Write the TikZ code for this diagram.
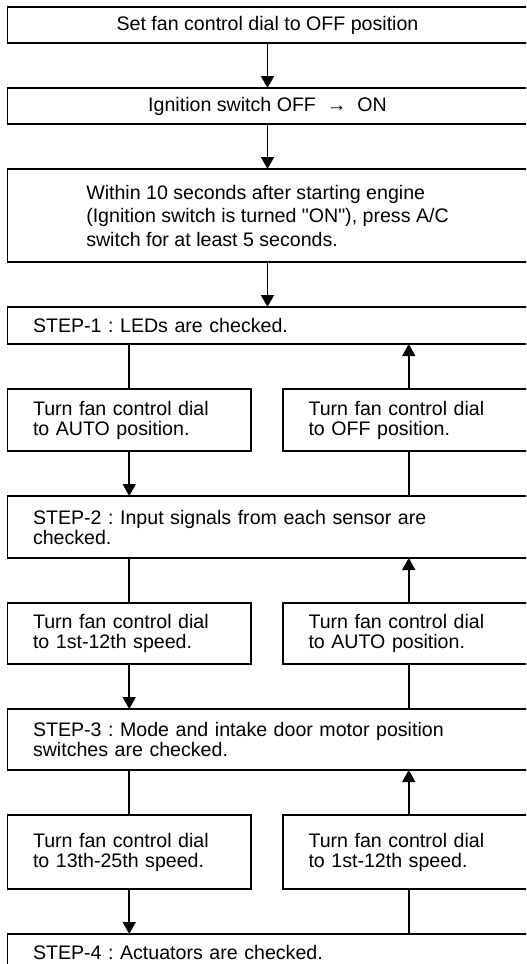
\documentclass[tikz,border=0pt]{standalone}
\usepackage{fontspec}
\setmainfont{Liberation Sans}
\usepackage{tikz}
\usetikzlibrary{arrows.meta,positioning}
\frenchspacing

\begin{document}
\begin{tikzpicture}[
  x=0.5pt, y=-0.5pt,
  font=\fontsize{9.8}{10}\selectfont,
  node distance=22.5pt and 16pt,
  wide/.style={draw, line width=0.85pt, outer sep=0pt, minimum width=260pt,
    minimum height=18pt, inner sep=0pt, align=center},
  stepbox/.style={draw, line width=0.85pt, outer sep=0pt, text width=234.5pt,
    inner xsep=12.75pt, inner ysep=0pt, align=left, minimum height=18.5pt},
  dial/.style={draw, line width=0.85pt, outer sep=0pt, text width=96.25pt,
    inner xsep=12.75pt, inner ysep=0pt, align=left, minimum height=31pt},
  dialr/.style={dial, text width=100.25pt},
  arr/.style={-{Triangle[length=6pt, width=6.5pt]}, line width=0.85pt},
  link/.style={line width=0.85pt}
]

\useasboundingbox (0,0) rectangle (526,964);
\clip (0,0) rectangle (526,964);

\node[wide, anchor=north west] (b1) at (7.5,7) {Set fan control dial to OFF position};
\node[wide, below=of b1] (b2) {Ignition switch OFF \ → \ ON};
\node[wide, below=of b2, minimum height=46.5pt, align=left,
  font=\fontsize{9.8}{11.75}\selectfont] (b3) {Within 10 seconds after starting engine\\(Ignition switch is turned \textquotedbl ON\textquotedbl), press A/C\\switch for at least 5 seconds.};
\node[stepbox, below=of b3] (s1) {STEP-1 : LEDs are checked.};

\node[dial, below=of s1.south west, anchor=north west] (l1) {Turn fan control dial\\to AUTO position.};
\node[dialr, right=of l1] (r1) {Turn fan control dial\\to OFF position.};
\node[stepbox, below=of l1.south west, anchor=north west, minimum height=31pt] (s2) {STEP-2 : Input signals from each sensor are\\checked.};

\node[dial, below=of s2.south west, anchor=north west, minimum height=30.5pt] (l2) {Turn fan control dial\\to 1st-12th speed.};
\node[dialr, right=of l2, minimum height=30.5pt] (r2) {Turn fan control dial\\to AUTO position.};
\node[stepbox, below=of l2.south west, anchor=north west, minimum height=30.5pt] (s3) {STEP-3 : Mode and intake door motor position\\switches are checked.};

\node[dial, below=of s3.south west, anchor=north west, minimum height=37pt] (l3) {Turn fan control dial\\to 13th-25th speed.};
\node[dialr, right=of l3, minimum height=37pt] (r3) {Turn fan control dial\\to 1st-12th speed.};
\node[stepbox, below=of l3.south west, anchor=north west] (s4) {STEP-4 : Actuators are checked.};

\draw[arr] (b1) -- (b2);
\draw[arr] (b2) -- (b3);
\draw[arr] (b3) -- (s1);

\draw[link] (l1.north) -- (l1.north |- s1.south);
\draw[arr] (l1.south) -- (l1.south |- s2.north);
\draw[link] (r1.south) -- (r1.south |- s2.north);
\draw[arr] (r1.north) -- (r1.north |- s1.south);

\draw[link] (l2.north) -- (l2.north |- s2.south);
\draw[arr] (l2.south) -- (l2.south |- s3.north);
\draw[link] (r2.south) -- (r2.south |- s3.north);
\draw[arr] (r2.north) -- (r2.north |- s2.south);

\draw[link] (l3.north) -- (l3.north |- s3.south);
\draw[arr] (l3.south) -- (l3.south |- s4.north);
\draw[link] (r3.south) -- (r3.south |- s4.north);
\draw[arr] (r3.north) -- (r3.north |- s3.south);

\end{tikzpicture}
\end{document}
